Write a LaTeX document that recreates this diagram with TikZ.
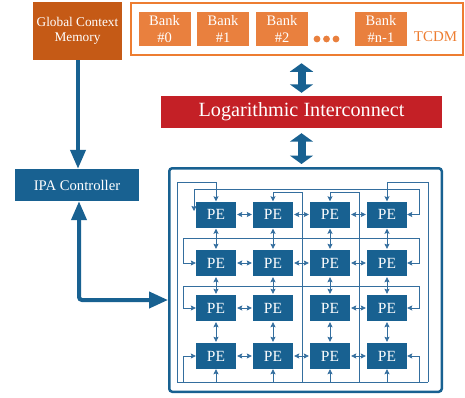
\documentclass[tikz,border=0pt]{standalone}
\usepackage{fontspec}
\setmainfont{Liberation Serif}
\usetikzlibrary{positioning,arrows.meta,calc}
\definecolor{ipablue}{RGB}{24,97,145}
\definecolor{wireblue}{RGB}{52,110,158}
\definecolor{gcmorange}{RGB}{197,90,22}
\definecolor{bankorange}{RGB}{233,128,62}
\definecolor{tcdmorange}{RGB}{237,125,49}
\definecolor{lired}{RGB}{196,32,38}
\tikzset{
  pe/.style={fill=ipablue,minimum width=40pt,minimum height=26pt,inner sep=0pt,
    text=white,font=\fontsize{15.5}{16}\selectfont},
  bank/.style={fill=bankorange,minimum width=52pt,minimum height=34pt,inner sep=0pt,
    text=white,align=center,font=\fontsize{14.5}{16.5}\selectfont},
  blockbox/.style={inner sep=0pt,text=white,align=center},
  wire/.style={draw=wireblue,line width=0.8pt},
  wtip/.style={wire,arrows={-Stealth[length=5pt,width=5pt,inset=0.8pt]}},
  wdbl/.style={wire,arrows={Stealth[length=5pt,width=5pt,inset=0.8pt]-Stealth[length=5pt,width=5pt,inset=0.8pt]}},
  fat/.style={draw=ipablue,line width=4pt},
  fattip/.style={fat,arrows={-Triangle[length=19pt,width=15pt]}},
  fatdbl/.style={fat,rounded corners=3pt,arrows={Triangle[length=19pt,width=15pt]-Triangle[length=19pt,width=16pt]}},
  blk/.style={draw=ipablue,line width=8pt,
    arrows={Triangle[length=8.5pt,width=23pt]-Triangle[length=8.5pt,width=23pt]}},
}
\begin{document}
\begin{tikzpicture}[x=1pt,y=-1pt]
  \useasboundingbox (0,0) rectangle (465,397);
  % memories and interconnect
  \node[blockbox,fill=gcmorange,minimum width=89pt,minimum height=58pt,
    font=\fontsize{13.3}{15.5}\selectfont] (gcm) at (77.5,31) {Global Context\\Memory};
  \node[draw=tcdmorange,line width=2.5pt,minimum width=332pt,minimum height=52pt,
    inner sep=0pt] (tcdm) at (297,29) {};
  \foreach \x/\b in {164.5/0,223/1,282/2,381/n-1}{
    \node[bank] (bank\b) at (\x,29) {Bank\\\#\b};
  }
  \foreach \x in {317,326.5,336}{
    \fill[bankorange] (\x,39) circle (3.4);
  }
  \node[text=tcdmorange,font=\fontsize{14.9}{16}\selectfont] (tcdmlbl) at (435.5,37) {TCDM};
  \node[blockbox,fill=lired,minimum width=281pt,minimum height=32pt,
    font=\fontsize{20.2}{22}\selectfont] (li) at (301.5,112) {Logarithmic Interconnect};
  \node[blockbox,fill=ipablue,minimum width=124pt,minimum height=32pt,
    font=\fontsize{14.7}{16}\selectfont] (ipa) at (77,185) {IPA Controller};
  \node[draw=ipablue,line width=2.5pt,rounded corners=3pt,minimum width=272.5pt,
    minimum height=223.5pt,inner sep=0pt] (arr) at (305.5,280) {};
  \draw[blk,shorten <=7pt,shorten >=3pt] (li.north |- tcdm.south) -- (li.north);
  \draw[blk,shorten <=5pt,shorten >=3pt] (li.south) -- (li.south |- arr.north);
  \draw[fattip] (gcm.south -| 78,0) -- (ipa.north -| 78,0);
  \draw[fatdbl] (ipa.south -| 79,0) |- ($(arr.west)+(0,20)$);
  % PE array
  \foreach \r/\y in {1/214.5,2/263,3/308,4/356}{
    \foreach \c/\x in {1/216,2/273,3/330,4/387}{
      \node[pe] (pe\r\c) at (\x,\y) {PE};
    }
  }
  \foreach \r in {1,...,4}{
    \foreach \c [count=\n from 2] in {1,2,3}{
      \ifnum\r\c=32\else
        \draw[wdbl,shorten <=1pt,shorten >=1pt] (pe\r\c.east) -- (pe\r\n.west);
      \fi
    }
  }
  \foreach \c in {1,...,4}{
    \foreach \r [count=\n from 2] in {1,2,3}{
      \draw[wdbl,shorten <=1pt,shorten >=1pt] (pe\r\c.south) -- (pe\n\c.north);
    }
  }
  % torus wrap-around links
  \coordinate (busl) at (177,382);
  \coordinate (busr) at (428,382);
  \coordinate (vtwo) at (302,382);
  \coordinate (vthree) at (359,382);
  \coordinate (rowl) at (183,382);
  \coordinate (rowr) at (419,382);
  \coordinate (rowin) at (194,211);
  \draw[wire] (busl) -- (busr);
  \draw[wtip] (busl) |- ($(pe11.north)+(0,-18.5)$) -- (pe11.north);
  \draw[wtip] (busr) |- ($(pe14.north)+(0,-18.5)$) -- (pe14.north);
  \draw[wtip] (vtwo) |- ($(pe12.north)+(0,-8.5)$) -- (pe12.north);
  \draw[wtip] (vthree) |- ($(pe13.north)+(0,-8.5)$) -- (pe13.north);
  \foreach \c in {1,...,4}{
    \draw[wtip] (pe4\c.south |- busl) -- (pe4\c.south);
  }
  \draw[wdbl] (rowin) |- ($(rowr |- pe14.east)+(0,-25.5)$) -- (rowr |- pe14.east) -- (pe14.east);
  \foreach \r/\h in {2/25,3/22}{
    \draw[wdbl] (pe\r1.west) -| ($(rowl |- pe\r1.west)+(0,-\h)$)
      -| (rowr |- pe\r4.east) -- (pe\r4.east);
  }
  \draw[wtip] (rowl) |- (pe41.west);
  \draw[wtip] (rowr) |- (pe44.east);
\end{tikzpicture}
\end{document}
